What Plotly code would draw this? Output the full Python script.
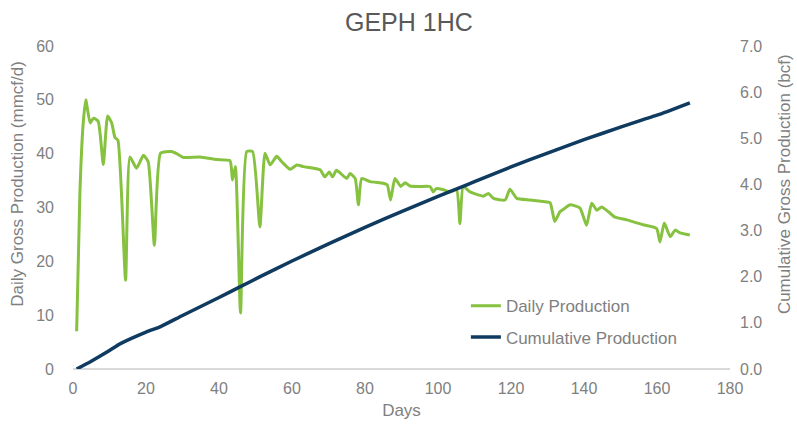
import plotly.graph_objects as go

days_daily = [1.0, 1.9, 2.8, 3.5, 4.7, 5.6, 6.9, 8.3, 9.5, 10.6, 11.5, 12.3, 14.4, 15.6, 17.4, 19.3, 20.6,
              22.3, 24.0, 27.0, 28.4, 30.2, 34.8, 39.4, 43.0, 43.7, 44.5, 45.9, 47.6, 49.2, 51.2, 52.6,
              54.0, 55.8, 57.2, 59.5, 61.3, 63.1, 67.7, 69.0, 70.2, 71.1, 72.2, 75.0, 75.9, 77.3, 78.2,
              79.1, 81.4, 85.0, 86.1, 87.0, 88.2, 89.8, 91.0, 92.3, 95.0, 97.8, 98.7, 99.5, 101.5, 103.3,
              105.1, 106.0, 106.9, 108.8, 112.4, 113.8, 115.2, 118.4, 119.7, 121.6, 125.2, 128.8, 130.7,
              132.0, 133.4, 134.8, 136.2, 138.9, 140.7, 142.1, 143.5, 144.8, 146.7, 148.5, 151.7, 156.2,
              159.9, 160.8, 162.0, 163.6, 165.0, 166.3, 169.0]
daily_production = [7, 33, 45.7, 50, 45.7, 46.6, 46, 38, 47, 45.7, 43, 42.5, 16.5, 39.4, 37.3, 39.7, 38.5,
                    23, 40.1, 40.4, 40, 39.3, 39.4, 38.9, 38.7, 35.1, 37.6, 10.4, 40.4, 40.4, 26.4, 40.1,
                    37.9, 39.5, 38.5, 37.1, 37.9, 37.6, 37, 35.7, 36.6, 35.7, 36.9, 35.4, 36.3, 35.4, 30.5,
                    35.4, 34.8, 34.5, 34.2, 31.4, 35.4, 33.9, 34.6, 34, 33.9, 33.9, 32.9, 33.5, 33.3, 32.9,
                    33.3, 27, 33.9, 32.9, 32.1, 32.6, 31.7, 31.4, 33.4, 31.7, 31.4, 31.1, 30.9,
                    27.4, 29.2, 29.9, 30.5, 29.9, 26.7, 30.8, 29.5, 30.1, 29.2, 28.2, 27.7, 26.8,
                    26.1, 23.6, 27.1, 24.6, 25.8, 25.3, 24.9]

days_cum = [1, 5, 10, 13, 20, 24, 30, 40, 46, 51, 60, 70, 80, 90, 100, 106, 110, 120, 130, 140, 150, 156, 160, 169]
cumulative_production = [0.0, 0.17, 0.40, 0.55, 0.80, 0.92, 1.16, 1.55, 1.79, 1.99, 2.34, 2.71, 3.07, 3.41,
                         3.74, 3.93, 4.06, 4.38, 4.68, 4.97, 5.24, 5.40, 5.50, 5.77]

x_ticks = [0, 20, 40, 60, 80, 100, 120, 140, 160, 180]
left_ticks = [0, 10, 20, 30, 40, 50, 60]
right_ticks = [0, 1, 2, 3, 4, 5, 6, 7]

GREEN = "#86c240"
BLUE = "#0f3b60"
GRAY = "#7f7f7f"
FONT = "Liberation Sans, Arial, sans-serif"

fig = go.Figure()
fig.add_trace(go.Scatter(x=days_daily, y=daily_production, mode="lines", name="Daily Production",
                         line=dict(color=GREEN, width=3, shape="spline", smoothing=0.5), legendgroup="a"))
fig.add_trace(go.Scatter(x=days_cum, y=cumulative_production, mode="lines", name="Cumulative Production",
                         line=dict(color=BLUE, width=3.5, shape="spline", smoothing=0.6), yaxis="y2",
                         legendgroup="b"))

fig.update_layout(
    width=797, height=428,
    margin=dict(l=73, r=67, t=46, b=59),
    paper_bgcolor="white", plot_bgcolor="white",
    font=dict(family=FONT, color=GRAY, size=16),
    title=dict(text="GEPH 1HC", x=0.513, xanchor="center", y=0.948, yanchor="middle",
               font=dict(size=25, color="#595959", family=FONT)),
    xaxis=dict(range=[0, 180], tickvals=x_ticks, showgrid=False, zeroline=False, automargin=False,
               showline=False, ticks="", tickfont=dict(size=16, color=GRAY), ticklabelstandoff=8,
               title=dict(text="Days", font=dict(size=17, color=GRAY), standoff=8)),
    yaxis=dict(range=[0, 60], tickvals=left_ticks, showgrid=False, zeroline=True, automargin=False,
               zerolinecolor="#d9d9d9", zerolinewidth=2, showline=False, ticks="",
               tickfont=dict(size=16, color=GRAY), ticklabelstandoff=18),
    yaxis2=dict(range=[0, 7], tickvals=right_ticks, tickformat=".1f", overlaying="y", side="right",
                showgrid=False, zeroline=False, showline=False, ticks="", automargin=False,
                tickfont=dict(size=16, color=GRAY), ticklabelstandoff=9),
    legend=dict(x=0.598, y=0.25, xanchor="left", yanchor="top", bgcolor="rgba(0,0,0,0)",
                font=dict(size=17, color=GRAY), tracegroupgap=6),
    showlegend=True,
    annotations=[
        dict(text="Daily Gross Production (mmcf/d)", xref="paper", yref="paper", x=-0.084, y=0.573,
             xanchor="center", yanchor="middle", textangle=-90, showarrow=False,
             font=dict(size=17, color=GRAY, family=FONT)),
        dict(text="Cumulative Gross Production (bcf)", xref="paper", yref="paper", x=1.084, y=0.573,
             xanchor="center", yanchor="middle", textangle=-90, showarrow=False,
             font=dict(size=17, color=GRAY, family=FONT)),
    ],
)

fig.write_html("out.html", config={"displayModeBar": False},
               post_script="document.body.style.margin='0';")
